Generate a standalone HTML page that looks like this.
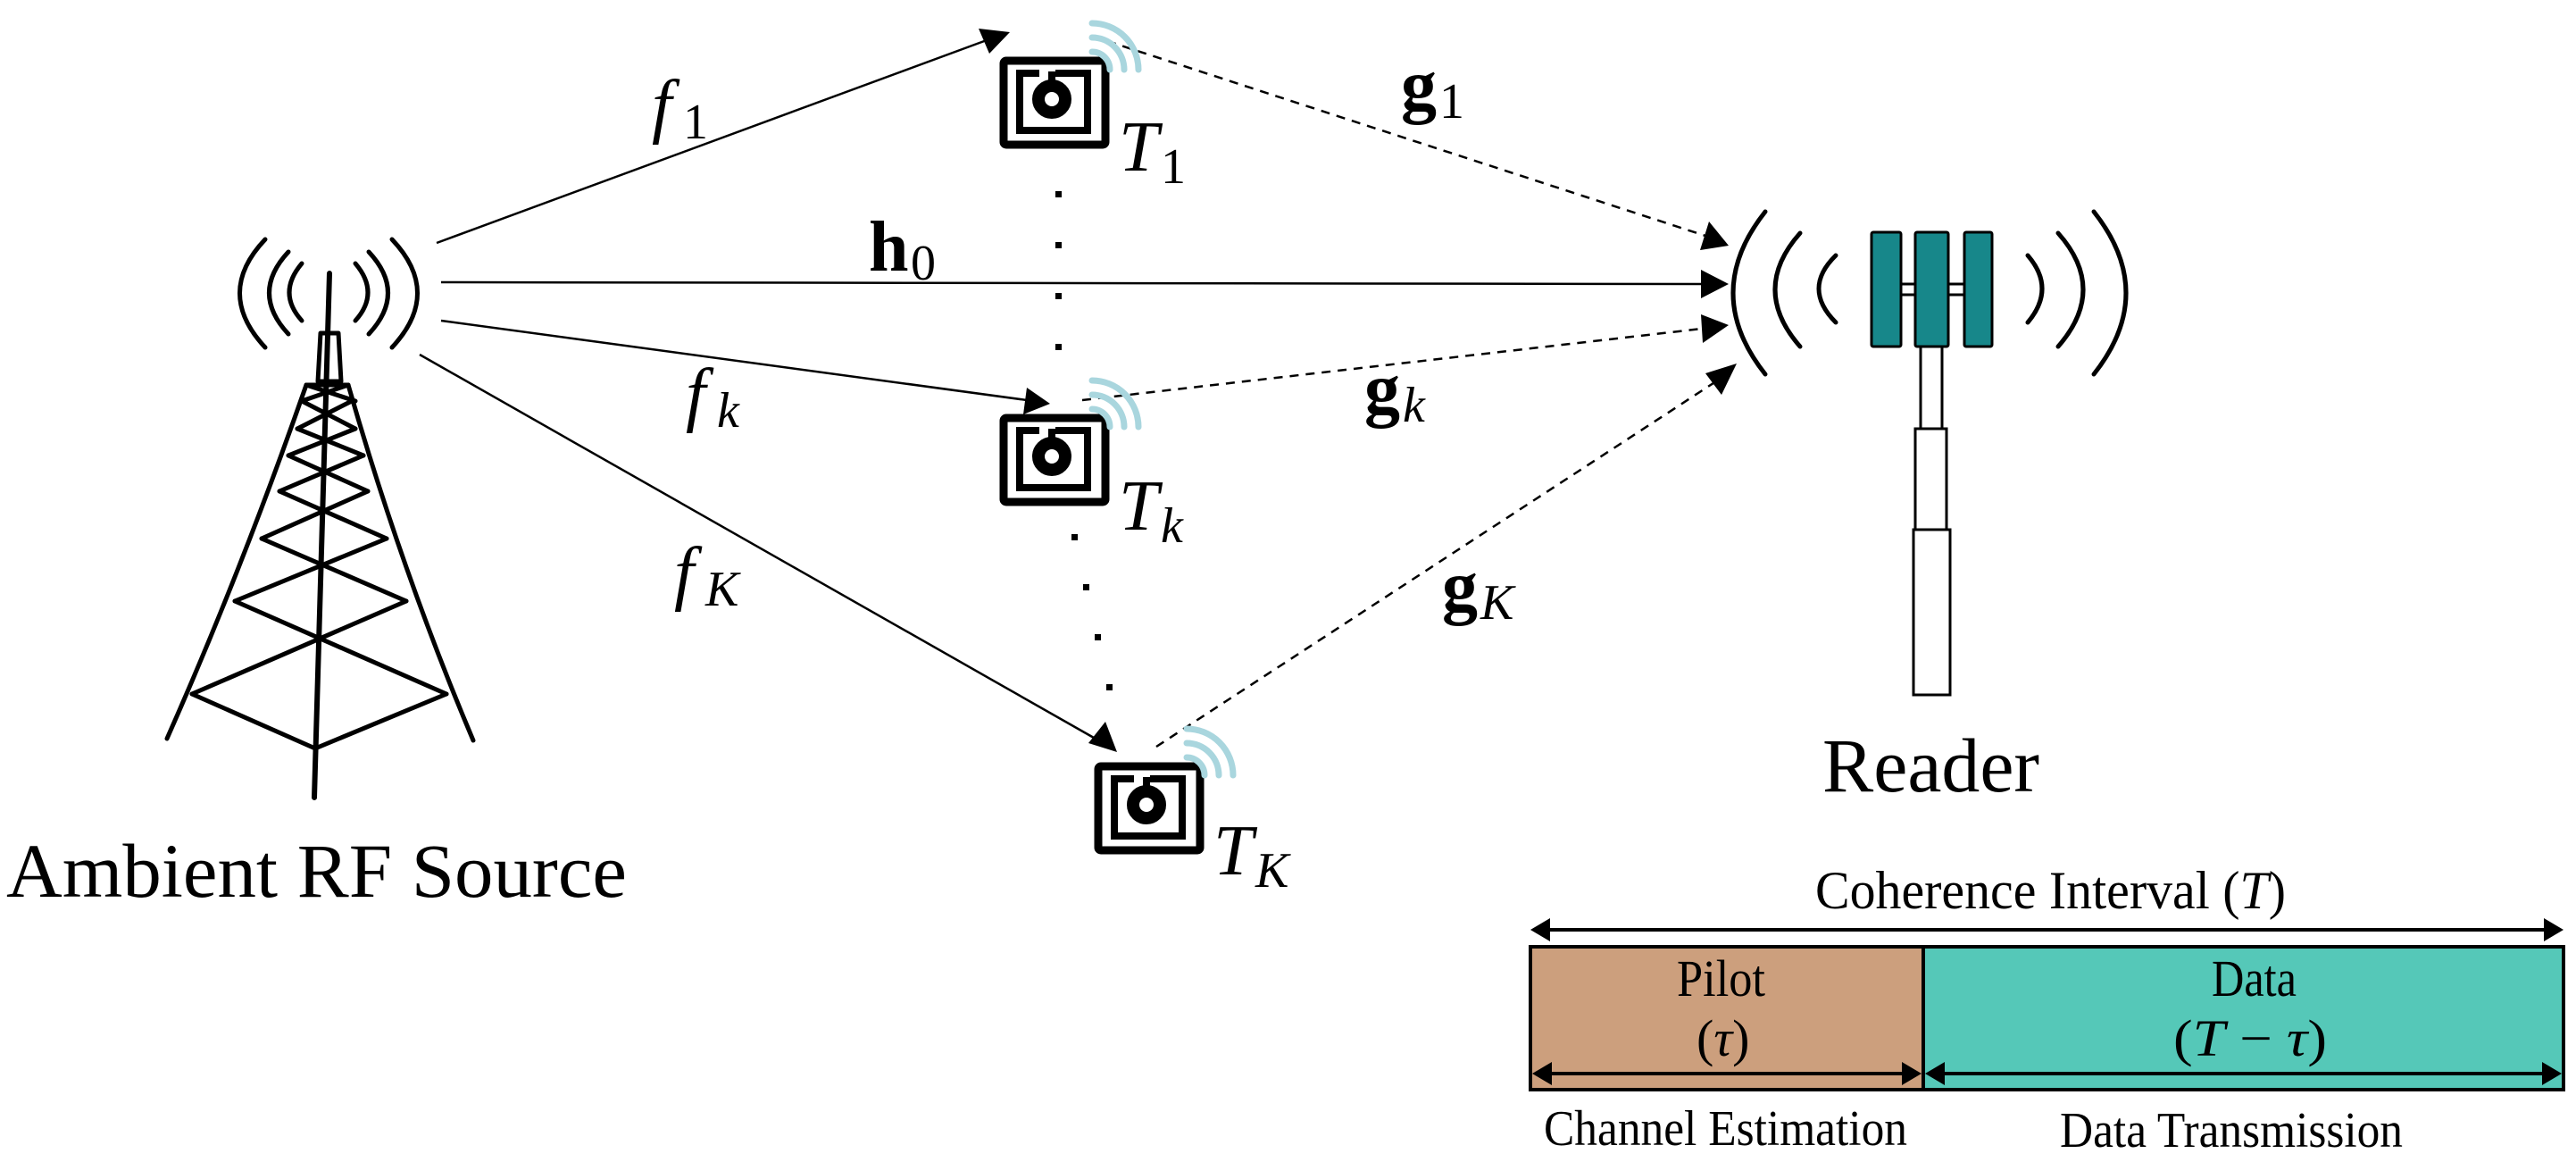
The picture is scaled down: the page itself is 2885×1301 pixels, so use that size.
<!DOCTYPE html>
<html><head><meta charset="utf-8"><style>
html,body{margin:0;padding:0;background:#fff;}
svg{display:block;}
text{font-family:"Liberation Serif",serif;fill:#000;}
</style></head><body>
<svg width="2885" height="1301" viewBox="0 0 2885 1301" xmlns="http://www.w3.org/2000/svg">

<!-- Tower arcs -->
<g fill="none" stroke="#000" stroke-width="5" stroke-linecap="round">
<path d="M297,268 Q240,328 297,389"/>
<path d="M323,282 Q280,328 323,374"/>
<path d="M338,295 Q310,328 338,359"/>
<path d="M439,268 Q496,328 439,389"/>
<path d="M413,282 Q456,328 413,374"/>
<path d="M398,295 Q426,328 398,359"/>
</g>
<!-- Tower -->
<g fill="none" stroke="#000" stroke-width="5" stroke-linejoin="round" stroke-linecap="round">
<line x1="369" y1="306" x2="352" y2="893" stroke-width="6"/>
<path d="M359,373 L379,373 L382,427 L356,427 Z"/>
<line x1="343" y1="431" x2="390" y2="431"/>
<path d="M343,431 Q270,640 187,827"/>
<path d="M390,431 Q450,640 530,829"/>
<path d="M343,431 L398,449 M390,431 L338,449"/>
<path d="M338,449 L398,480 M394,449 L333,480"/>
<path d="M333,480 L407,510 M398,480 L323,510"/>
<path d="M323,510 L412,550 M407,510 L313,550"/>
<path d="M313,550 L433,603 M412,550 L293,603"/>
<path d="M293,603 L455,673 M433,603 L263,673"/>
<path d="M263,673 L500,777 M455,673 L215,777"/>
<path d="M215,777 L353,838 L500,777"/>
</g>
<text x="7" y="1004" font-size="86" textLength="695" lengthAdjust="spacingAndGlyphs">Ambient RF Source</text>

<!-- solid arrows from source -->
<g stroke="#000" stroke-width="2.5" fill="none">
<line x1="489" y1="272" x2="1105" y2="45"/>
<line x1="494" y1="316" x2="1906" y2="318"/>
<line x1="494" y1="359" x2="1150" y2="448"/>
<line x1="470" y1="397" x2="1225" y2="826"/>
</g>
<g fill="#000">
<polygon points="1131,36 1096,32 1108,60"/>
<polygon points="1936,318 1905,302 1905,334"/>
<polygon points="1176,452 1150,434 1146,464"/>
<polygon points="1251,842 1238,808 1219,832"/>
</g>

<!-- dashed to reader -->
<g stroke="#000" stroke-width="2.5" fill="none" stroke-dasharray="10,8">
<line x1="1240" y1="46" x2="1910" y2="264"/>
<line x1="1212" y1="448" x2="1906" y2="368"/>
<line x1="1295" y1="836" x2="1925" y2="425"/>
</g>
<g fill="#000">
<polygon points="1936,275 1914,248 1904,280"/>
<polygon points="1936,364 1905,352 1907,384"/>
<polygon points="1945,407 1910,418 1928,442"/>
</g>

<!-- dotted between tags -->
<g fill="#000">
<rect x="1182" y="214" width="7" height="7"/>
<rect x="1182" y="271" width="7" height="7"/>
<rect x="1182" y="328" width="7" height="7"/>
<rect x="1182" y="385" width="7" height="7"/>
<rect x="1200" y="598" width="7" height="7"/>
<rect x="1213" y="654" width="7" height="7"/>
<rect x="1226" y="710" width="7" height="7"/>
<rect x="1239" y="766" width="7" height="7"/>
</g>

<!-- Tags -->
<g id="tag1" transform="translate(1120,64)">
<rect x="4" y="4" width="114" height="94" fill="none" stroke="#000" stroke-width="9" rx="3"/>
<path d="M44,18 L22,18 L22,82 L98,82 L98,18 L62,18" fill="none" stroke="#000" stroke-width="8"/>
<circle cx="58" cy="47" r="15" fill="none" stroke="#000" stroke-width="14"/>
<line x1="58" y1="16" x2="58" y2="30" stroke="#000" stroke-width="8"/>
<g fill="none" stroke="#a9d6de" stroke-width="7" stroke-linecap="round">
<path d="M103,-22 A36,36 0 0 1 139,14"/>
<path d="M103,-6 A20,20 0 0 1 123,14"/>
<path d="M103,-38 A52,52 0 0 1 155,14"/>
</g>
</g>
<use href="#tag1" transform="translate(0,400)"/>
<use href="#tag1" transform="translate(106,790)"/>

<!-- tag labels -->
<text x="1253" y="191" font-size="80" font-style="italic">T</text><text x="1300" y="205" font-size="56">1</text>
<text x="1253" y="593" font-size="80" font-style="italic">T</text><text x="1300" y="607" font-size="56" font-style="italic">k</text>
<text x="1359" y="979" font-size="80" font-style="italic">T</text><text x="1406" y="993" font-size="56" font-style="italic">K</text>

<!-- channel labels -->
<text x="730" y="145" font-size="80" font-style="italic">f</text><text x="765" y="155" font-size="56">1</text>
<text x="768" y="468" font-size="80" font-style="italic">f</text><text x="803" y="478" font-size="56" font-style="italic">k</text>
<text x="755" y="668" font-size="80" font-style="italic">f</text><text x="790" y="678" font-size="56" font-style="italic">K</text>
<text x="973" y="303" font-size="80" font-weight="bold">h</text><text x="1020" y="313" font-size="56">0</text>
<text x="1569" y="122" font-size="80" font-weight="bold">g</text><text x="1612" y="132" font-size="56">1</text>
<text x="1528" y="462" font-size="80" font-weight="bold">g</text><text x="1571" y="472" font-size="56" font-style="italic">k</text>
<text x="1615" y="683" font-size="80" font-weight="bold">g</text><text x="1658" y="693" font-size="56" font-style="italic">K</text>

<!-- Reader arcs -->
<g fill="none" stroke="#000" stroke-width="5" stroke-linecap="round">
<path d="M1977,237 Q1905,328 1977,419"/>
<path d="M2016,261 Q1960,324 2016,388"/>
<path d="M2056,286 Q2018,323 2056,361"/>
<path d="M2345,237 Q2417,328 2345,419"/>
<path d="M2305,261 Q2361,324 2305,388"/>
<path d="M2271,286 Q2303,323 2271,361"/>
</g>
<!-- Reader antenna -->
<g stroke="#000" stroke-width="3">
<rect x="2129" y="318" width="16" height="12" fill="#fff"/>
<rect x="2182" y="318" width="18" height="12" fill="#fff"/>
<rect x="2096" y="260" width="33" height="128" fill="#17878a" rx="2"/>
<rect x="2145" y="260" width="37" height="128" fill="#17878a" rx="2"/>
<rect x="2200" y="260" width="31" height="128" fill="#17878a" rx="2"/>
<rect x="2151" y="388" width="24" height="92" fill="#fff"/>
<rect x="2145" y="480" width="35" height="113" fill="#fff"/>
<rect x="2143" y="593" width="41" height="185" fill="#fff"/>
</g>
<text x="2041" y="886" font-size="86" textLength="243" lengthAdjust="spacingAndGlyphs">Reader</text>

<!-- Coherence interval -->
<text x="2033" y="1017" font-size="60" textLength="527" lengthAdjust="spacingAndGlyphs">Coherence Interval (<tspan font-style="italic">T</tspan>)</text>
<line x1="1730" y1="1041" x2="2855" y2="1041" stroke="#000" stroke-width="4"/>
<polygon points="1714,1041 1736,1028 1736,1054" fill="#000"/>
<polygon points="2871,1041 2849,1028 2849,1054" fill="#000"/>

<rect x="1714" y="1060" width="440" height="160" fill="#cc9f7d" stroke="#000" stroke-width="4"/>
<rect x="2154" y="1060" width="717" height="160" fill="#55c8b8" stroke="#000" stroke-width="4"/>
<text x="1878" y="1115" font-size="58" textLength="99" lengthAdjust="spacingAndGlyphs">Pilot</text>
<text x="1900" y="1182" font-size="58">(<tspan font-style="italic">τ</tspan>)</text>
<text x="2477" y="1115" font-size="58" textLength="95" lengthAdjust="spacingAndGlyphs">Data</text>
<text x="2434" y="1182" font-size="58" textLength="172" lengthAdjust="spacingAndGlyphs">(<tspan font-style="italic">T</tspan> − <tspan font-style="italic">τ</tspan>)</text>

<g stroke="#000" stroke-width="4">
<line x1="1730" y1="1202" x2="2138" y2="1202"/>
<line x1="2170" y1="1202" x2="2855" y2="1202"/>
</g>
<g fill="#000">
<polygon points="1716,1202 1738,1189 1738,1215"/>
<polygon points="2152,1202 2130,1189 2130,1215"/>
<polygon points="2156,1202 2178,1189 2178,1215"/>
<polygon points="2869,1202 2847,1189 2847,1215"/>
</g>
<text x="1729" y="1282" font-size="56" textLength="407" lengthAdjust="spacingAndGlyphs">Channel Estimation</text>
<text x="2307" y="1284" font-size="56" textLength="384" lengthAdjust="spacingAndGlyphs">Data Transmission</text>
</svg>
</body></html>
